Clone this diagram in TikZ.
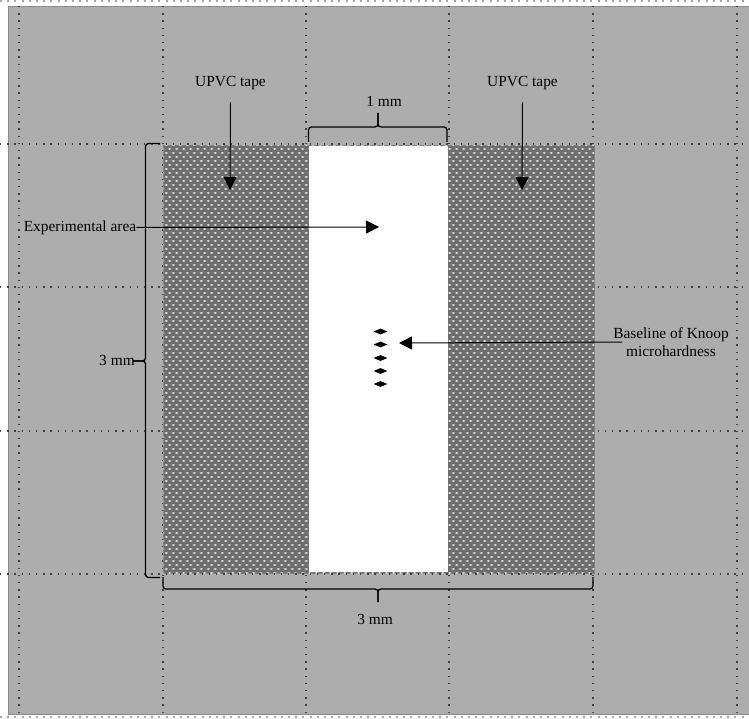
\documentclass[tikz,border=0pt]{standalone}
\usepackage{fontspec}
\setmainfont{Liberation Serif}
\usetikzlibrary{arrows.meta,patterns,shapes.geometric}
\definecolor{panel-gray}{gray}{0.68}
\definecolor{tape-gray}{gray}{0.43}
\pgfdeclarepatternformonly{tape-dots}{\pgfqpoint{-1pt}{-1pt}}{\pgfqpoint{8pt}{9pt}}{\pgfqpoint{7pt}{8pt}}{%
    \pgfpathellipse{\pgfqpoint{1.75pt}{2pt}}{\pgfqpoint{1.8pt}{0pt}}{\pgfqpoint{0pt}{0.85pt}}
    \pgfpathellipse{\pgfqpoint{5.25pt}{6pt}}{\pgfqpoint{1.8pt}{0pt}}{\pgfqpoint{0pt}{0.85pt}}
    \pgfusepath{fill}
}
\tikzset{
    grid-dots/.style = {draw=black!75, line width=1.2pt, dash pattern=on 1.4pt off 5.8pt},
    page-dots/.style = {draw=black!35, line width=1.2pt, dash pattern=on 2pt off 5.2pt},
    tape-box/.style = {draw=black!50, line width=0.6pt, fill=tape-gray, postaction={pattern=tape-dots, pattern color=white!92!black}},
    caption/.style = {font=\fontsize{15.4pt}{18pt}\selectfont, inner sep=0pt, align=center},
    pointer/.style = {draw=black, line width=1pt, -{Triangle[length=13pt,width=13pt]}},
    bracket/.style = {draw=black, line width=1.3pt, rounded corners=3pt},
    indent-mark/.style = {diamond, fill=black, inner sep=0pt, minimum width=14pt, minimum height=6pt},
}
\begin{document}
\begin{tikzpicture}[x=1pt,y=-1pt]
\useasboundingbox (0,0) rectangle (749,719);
\fill[panel-gray, draw=black!45, line width=0.8pt] (8,6.5) rectangle (752,714);
% dotted page frame and grid
\foreach \y in {1,717} \draw[page-dots] (0,\y) -- (749,\y);
\foreach \x in {19,163,306,449,593,737} \draw[grid-dots] (\x,6) -- (\x,714);
\foreach \y in {144,287,431,574} \draw[grid-dots] (0,\y) -- (749,\y);

\node[tape-box, minimum width=431pt, minimum height=427.5pt, inner sep=0pt, anchor=north west] (tape) at (163,145.5) {};
\fill[white] (309,146.5) rectangle (448,572);
\draw[grid-dots] (0,144) -- (749,144);
\draw[grid-dots] (0,574) -- (749,574);

% labels
\node[caption] (upvc-left) at (230.5,83.5) {UPVC tape};
\node[caption] (upvc-right) at (522.5,83.5) {UPVC tape};
\node[caption] (exp-area) at (80,227.5) {Experimental area};
\node[caption] (baseline) at (671,342) {Baseline of Knoop\\microhardness};
\node[caption] (width-one) at (384,101.5) {1 mm};
\node[caption] (height-three) at (117,360.5) {3 mm};
\node[caption] (width-three) at (375,619) {3 mm};

% Knoop indentations
\foreach \i/\y in {1/331.5,2/344.5,3/358,4/371,5/384}
    \node[indent-mark] (knoop-\i) at (380.5,\y) {};

% arrows
\coordinate (upvc-left-end) at (230,190);
\coordinate (upvc-right-end) at (522,190);
\coordinate (exp-end) at (379,227);
\coordinate (baseline-end) at (399,343);
\draw[pointer] ([yshift=-12pt]upvc-left.south) -- (upvc-left-end);
\draw[pointer] ([yshift=-12pt]upvc-right.south) -- (upvc-right-end);
\draw[pointer] (exp-area.east) -- (exp-end);
\draw[pointer] ([xshift=9pt]baseline.west) -- (baseline-end);

% braces
\coordinate (top-left) at (308.5,142);
\coordinate (top-right) at (447,142);
\coordinate (top-mid) at (378,127);
\coordinate (top-tip) at (378,113);
\draw[bracket] (top-left) |- (top-mid) -- (top-tip);
\draw[bracket] (top-right) |- (top-mid) -- (top-tip);

\coordinate (side-top) at (160,143.5);
\coordinate (side-bottom) at (160,577.5);
\coordinate (side-mid) at (145.5,361);
\coordinate (side-tip) at (133,361);
\draw[bracket] (side-top) -| (side-mid) -- (side-tip);
\draw[bracket] (side-bottom) -| (side-mid) -- (side-tip);

\coordinate (bottom-left) at (163,577);
\coordinate (bottom-right) at (593,577);
\coordinate (bottom-mid) at (378,589);
\coordinate (bottom-tip) at (378,602);
\draw[bracket] (bottom-left) |- (bottom-mid) -- (bottom-tip);
\draw[bracket] (bottom-right) |- (bottom-mid) -- (bottom-tip);
\end{tikzpicture}
\end{document}
